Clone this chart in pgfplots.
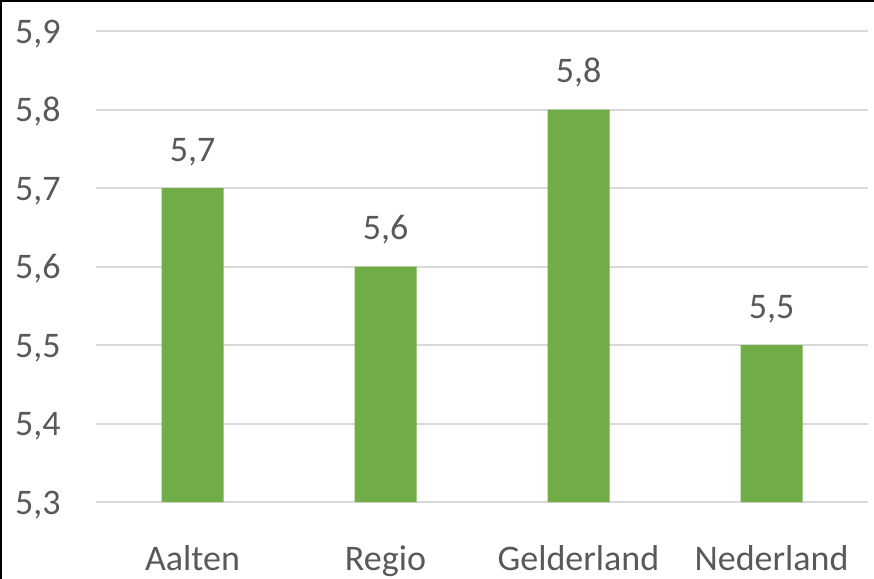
\documentclass[border=0pt]{standalone}
\usepackage{pgfplots}
\pgfplotsset{compat=1.18}
\usepackage{fontspec}
\setmainfont{Carlito}
\definecolor{bargreen}{HTML}{70AD47}
\definecolor{txtgray}{HTML}{595959}
\definecolor{gridgray}{HTML}{D9D9D9}
\begin{document}
\fontsize{18}{21.6}\selectfont
\begin{tikzpicture}
\path[use as bounding box] (0,0) rectangle (437pt,289.5pt);
\draw[black, line width=1pt] (0.6pt,0pt) -- (0.6pt,288.9pt) -- (437pt,288.9pt);
\begin{axis}[
  at={(48pt,38.5pt)}, anchor=south west,
  scale only axis,
  width=386pt, height=235.5pt,
  ymin=5.3, ymax=5.9,
  xmin=-0.5, xmax=3.5,
  ytick={5.3,5.4,5.5,5.6,5.7,5.8,5.9},
  xtick=data,
  xticklabels={Aalten,Regio,Gelderland,Nederland},
  axis line style={draw=none},
  tick style={draw=none},
  ymajorgrids,
  y grid style={gridgray, line width=1pt},
  /pgf/number format/assume math mode=true,
  /pgf/number format/.cd, use comma, fixed, fixed zerofill, precision=1, /pgfplots/.cd,
  yticklabel style={font=\fontsize{18}{21.6}\selectfont, text=txtgray, anchor=base east, inner sep=0pt, xshift=-17.5pt, yshift=-6pt},
  xticklabel style={font=\fontsize{18}{21.6}\selectfont, text=txtgray, anchor=base, inner sep=0pt, yshift=-30pt},
  ybar, bar width=31pt,
  nodes near coords,
  every node near coord/.append style={font=\fontsize{18}{21.6}\selectfont, text=txtgray, anchor=base, inner sep=0pt, yshift=13.5pt},
]
\addplot[fill=bargreen, draw=none] coordinates {(0,5.7) (1,5.6) (2,5.8) (3,5.5)};
\end{axis}
\end{tikzpicture}
\end{document}
